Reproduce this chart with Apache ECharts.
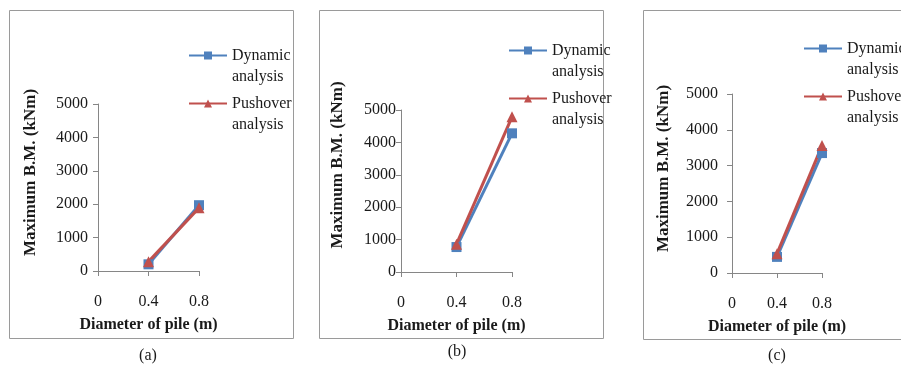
<!DOCTYPE html>
<html>
<head>
<meta charset="utf-8">
<script src="https://cdn.jsdelivr.net/npm/echarts@6/dist/echarts.min.js"></script>
<style>
  html, body { margin: 0; padding: 0; background: #fff; }
  #chart { width: 901px; height: 370px; }
</style>
</head>
<body>
<div id="chart"></div>
<script>
  // pile diameter (m) and max bending moment (kNm), panels (a) (b) (c)
  var diameters = [0.4, 0.8];
  var xTicks = [0, 0.4, 0.8];
  var yTicks = [0, 1000, 2000, 3000, 4000, 5000];
  var dynamicA = [200, 1970];
  var pushoverA = [280, 1890];
  var dynamicB = [770, 4280];
  var pushoverB = [860, 4790];
  var dynamicC = [450, 3350];
  var pushoverC = [540, 3560];
  var captions = ['(a)', '(b)', '(c)'];

  var blue = '#4f81bd';
  var red = '#c0504d';
  var axisColor = '#868686';
  var textColor = '#1a1a1a';
  var serif = 'Liberation Serif';

  // per panel: frame, plot area, legend pos, caption pos, y label margin, y title gap / shift
  var panels = [
    { frame: [9, 10, 284, 328], grid: [98, 104, 101, 167], legend: [183, 19], cap: [148, 356], ym: 10, ng: 59, up: 15 },
    { frame: [319, 10, 284, 328], grid: [401, 110, 111, 162], legend: [503, 14], cap: [457, 352], ym: 5, ng: 55, up: 26 },
    { frame: [643, 10, 300, 329], grid: [732, 94, 90, 179], legend: [798, 12], cap: [777, 356], ym: 14, ng: 60, up: 15 }
  ];

  function pairs(vals) {
    return diameters.map(function (d, i) { return [d, vals[i]]; });
  }

  var chart = echarts.init(document.getElementById('chart'));

  var grids = [], xAxes = [], yAxes = [], legends = [], graphics = [], series = [];
  var data = [[dynamicA, pushoverA], [dynamicB, pushoverB], [dynamicC, pushoverC]];

  panels.forEach(function (p, i) {
    graphics.push({
      type: 'rect',
      shape: { x: p.frame[0] + 0.5, y: p.frame[1] + 0.5, width: p.frame[2], height: p.frame[3] },
      style: { fill: 'none', stroke: '#9a9a9a', lineWidth: 1 },
      silent: true
    });
    graphics.push({
      type: 'text',
      x: p.cap[0], y: p.cap[1],
      style: { text: captions[i], font: '16px "' + serif + '"', fill: textColor, align: 'center', verticalAlign: 'middle' }
    });
    grids.push({ left: p.grid[0], top: p.grid[1], width: p.grid[2], height: p.grid[3] });
    xAxes.push({
      type: 'value', gridIndex: i, min: xTicks[0], max: xTicks[xTicks.length - 1], interval: 0.4,
      name: 'Diameter of pile (m)', nameLocation: 'middle', nameGap: 46,
      nameTextStyle: { fontFamily: serif, fontWeight: 'bold', fontSize: 16, color: textColor },
      axisLine: { lineStyle: { color: axisColor, width: 1 } },
      axisTick: { show: true, length: 5, lineStyle: { color: axisColor } },
      axisLabel: { margin: 23, fontFamily: serif, fontSize: 16, color: textColor },
      splitLine: { show: false }
    });
    yAxes.push({
      type: 'value', gridIndex: i, min: yTicks[0], max: yTicks[yTicks.length - 1], interval: 1000,
      name: 'Maximum B.M. (kNm)', nameLocation: 'middle', nameGap: p.ng,
      nameTextStyle: { fontFamily: serif, fontWeight: 'bold', fontSize: 17, color: textColor, padding: [0, 0, 0, p.up * 2] },
      axisLine: { show: true, lineStyle: { color: axisColor, width: 1 } },
      axisTick: { show: true, length: 5, lineStyle: { color: axisColor } },
      axisLabel: {
        margin: p.ym, fontFamily: serif, fontSize: 16, color: textColor,
        formatter: function (v) { return String(v); }
      },
      splitLine: { show: false }
    });
    legends.push({
      orient: 'vertical', left: p.legend[0], top: p.legend[1],
      itemWidth: 38, itemHeight: 10, itemGap: -15,
      selectedMode: false,
      lineStyle: { width: 2 },
      formatter: function (name) { return ' \n' + name; },
      textStyle: { fontFamily: serif, fontSize: 16, color: textColor, lineHeight: 21 },
      data: ['Dynamic\nanalysis', 'Pushover\nanalysis']
    });
    series.push({
      name: 'Dynamic\nanalysis', type: 'line', xAxisIndex: i, yAxisIndex: i,
      symbol: 'rect', symbolSize: 10, color: blue,
      lineStyle: { width: 3, color: blue }, itemStyle: { color: blue },
      data: pairs(data[i][0])
    });
    series.push({
      name: 'Pushover\nanalysis', type: 'line', xAxisIndex: i, yAxisIndex: i,
      symbol: 'triangle', symbolSize: 11, color: red,
      lineStyle: { width: 3, color: red }, itemStyle: { color: red },
      data: pairs(data[i][1])
    });
  });

  chart.setOption({
    backgroundColor: '#fff',
    animation: false,
    grid: grids,
    xAxis: xAxes,
    yAxis: yAxes,
    legend: legends,
    graphic: graphics,
    series: series
  });
</script>
</body>
</html>
